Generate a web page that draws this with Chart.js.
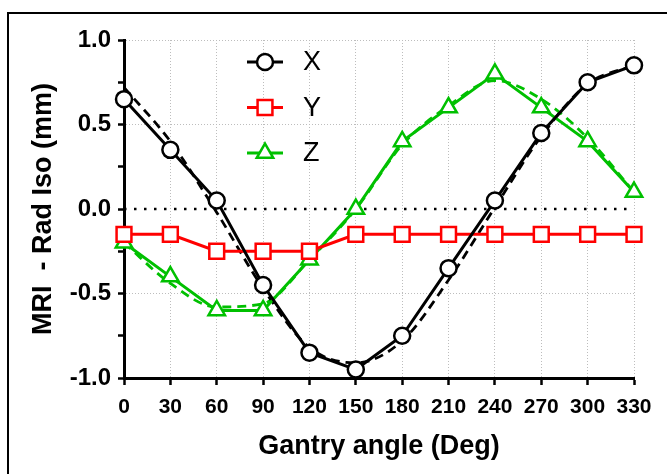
<!DOCTYPE html>
<html>
<head>
<meta charset="utf-8">
<script src="https://cdn.jsdelivr.net/npm/chart.js@4/dist/chart.umd.min.js"></script>
<style>
  body { margin: 0; background: #fff; overflow: hidden; }
  #wrap { position: relative; width: 667px; height: 474px; overflow: hidden; }
  #frame { position: absolute; left: 7px; top: 12px; width: 700px; height: 500px; border: 2px solid #000; }
  canvas { position: absolute; left: 0; top: 0; }
</style>
</head>
<body>
<div id="wrap">
  <div id="frame"></div>
  <canvas id="c" width="667" height="474"></canvas>
</div>
<script>
// MRI vs radiation isocentre offset by gantry angle, with fitted curves (dashed).

const angles = ["0", "30", "60", "90", "120", "150", "180", "210", "240", "270", "300", "330"];

const xMeasured = [0.65, 0.35, 0.05, -0.45, -0.85, -0.95, -0.75, -0.35, 0.05, 0.45, 0.75, 0.85];
const yMeasured = [-0.15, -0.15, -0.25, -0.25, -0.25, -0.15, -0.15, -0.15, -0.15, -0.15, -0.15, -0.15];
const zMeasured = [-0.2, -0.4, -0.6, -0.6, -0.3, 0.0, 0.4, 0.6, 0.8, 0.6, 0.4, 0.1];

// fitted curves
const xFit = [0.72, 0.40, -0.02, -0.47, -0.82, -0.91, -0.78, -0.42, 0.01, 0.43, 0.74, 0.85];
const zFit = [-0.2, -0.44, -0.58, -0.56, -0.3, 0.0, 0.38, 0.61, 0.76, 0.65, 0.42, 0.1];

const zeroLine = angles.map(() => 0);

const yTicks = [-1.0, -0.5, 0.0, 0.5, 1.0];

const BLACK = "#000000", RED = "#ff0000", GREEN = "#00c000";
const FONT = "'Liberation Sans', Arial, sans-serif";

// legend drawn inside the plot, like the original figure
const insideLegend = {
  id: "insideLegend",
  afterDraw(chart, args, opts) {
    const ctx = chart.ctx;
    const items = chart.data.datasets.filter((d) => d.legendRow != null);
    ctx.save();
    items.forEach((d) => {
      const y = opts.top + d.legendRow * opts.rowGap;
      ctx.strokeStyle = d.borderColor;
      ctx.lineWidth = d.borderWidth;
      ctx.setLineDash([]);
      ctx.beginPath();
      ctx.moveTo(opts.left, y);
      ctx.lineTo(opts.left + opts.lineLen, y);
      ctx.stroke();
      ctx.fillStyle = d.pointBackgroundColor;
      ctx.lineWidth = d.pointBorderWidth;
      Chart.helpers.drawPoint(ctx, {
        pointStyle: d.pointStyle, radius: d.pointRadius, rotation: 0, borderWidth: d.pointBorderWidth
      }, opts.left + opts.lineLen / 2, y);
      ctx.fillStyle = "#000";
      ctx.font = opts.font;
      ctx.textBaseline = "middle";
      ctx.textAlign = "left";
      ctx.fillText(d.label, opts.left + opts.lineLen + opts.textGap, y + 1);
    });
    ctx.restore();
  }
};

function measured(label, data, color, style, radius, row) {
  return {
    label, data, legendRow: row,
    borderColor: color, borderWidth: 3,
    pointStyle: style, pointRadius: radius, pointHoverRadius: radius,
    pointBorderColor: color, pointBackgroundColor: "#ffffff", pointBorderWidth: 2.5,
    tension: 0, clip: false, order: row
  };
}

function fitted(label, data, color) {
  return {
    label, data,
    borderColor: color, borderWidth: 2.8, borderDash: [9, 6],
    pointRadius: 0, cubicInterpolationMode: "monotone", clip: false, order: 5
  };
}

new Chart(document.getElementById("c"), {
  type: "line",
  data: {
    labels: angles,
    datasets: [
      measured("X", xMeasured, BLACK, "circle", 8, 0),
      measured("Y", yMeasured, RED, "rect", 10.5, 1),
      measured("Z", zMeasured, GREEN, "triangle", 9.5, 2),
      fitted("X fit", xFit, BLACK),
      fitted("Z fit", zFit, GREEN),
      { label: "zero", data: zeroLine, borderColor: BLACK, borderWidth: 2.5, borderDash: [2.5, 7.5],
        pointRadius: 0, order: 9 }
    ]
  },
  options: {
    responsive: false,
    devicePixelRatio: 1,
    animation: false,
    layout: { padding: { left: 0, right: 33, top: 40, bottom: 0 } },
    plugins: {
      legend: { display: false },
      tooltip: { enabled: false },
      insideLegend: { left: 247, top: 62, rowGap: 45.5, lineLen: 36, textGap: 20,
        font: "27px " + FONT }
    },
    scales: {
      x: {
        type: "category",
        offset: false,
        grid: { color: "#bdbdbd", lineWidth: 1, tickColor: BLACK, tickWidth: 2.5, tickLength: 7 },
        border: { color: BLACK, width: 3, dash: [1, 2] },
        ticks: { color: BLACK, padding: 10, maxRotation: 0, autoSkip: false,
          font: { family: FONT, size: 21, weight: "bold" } },
        title: { display: true, text: "Gantry angle (Deg)", color: BLACK, padding: { bottom: 11 },
          font: { family: FONT, size: 27, weight: "bold" } },
        afterFit: (s) => { s.height = 96; }
      },
      y: {
        min: -1, max: 1,
        afterBuildTicks: (s) => {
          // major ticks every 0.5, minor unlabeled ticks in between
          const t = [];
          yTicks.forEach((v, i) => {
            t.push({ value: v });
            if (i < yTicks.length - 1) t.push({ value: (v + yTicks[i + 1]) / 2, minor: true });
          });
          s.ticks = t;
        },
        grid: {
          color: (c) => (c.tick && !c.tick.minor && c.tick.value !== 0 && c.tick.value !== -1) ? "#bdbdbd" : "rgba(0,0,0,0)",
          lineWidth: 1, tickColor: BLACK, tickWidth: 2.5, tickLength: 6
        },
        border: { color: BLACK, width: 3, dash: [1, 2] },
        ticks: { color: BLACK, padding: 7,
          callback: function (v, i, ticks) { return ticks[i].minor ? "" : Number(v).toFixed(1); },
          font: { family: FONT, size: 24, weight: "bold" } },
        title: { display: true, text: "MRI  - Rad Iso (mm)", color: BLACK, padding: { top: 27 },
          font: { family: FONT, size: 27, weight: "bold" } },
        afterFit: (s) => { s.width = 124; }
      }
    }
  },
  plugins: [insideLegend]
});
</script>
</body>
</html>
